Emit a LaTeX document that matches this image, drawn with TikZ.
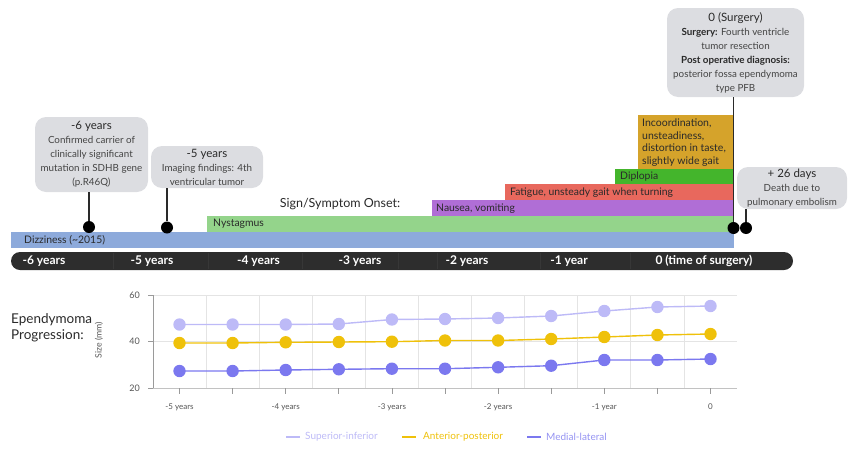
\documentclass[tikz,border=0pt]{standalone}
\usepackage{fontspec}
\setmainfont{Lato}
\definecolor{cDiz}{HTML}{8DAADB}
\definecolor{cNys}{HTML}{94D48B}
\definecolor{cNau}{HTML}{B06ED6}
\definecolor{cFat}{HTML}{E8685D}
\definecolor{cDip}{HTML}{44B52C}
\definecolor{cInc}{HTML}{D5A32B}
\definecolor{cBox}{HTML}{DCDDE1}
\definecolor{cTL}{HTML}{2D2D2D}
\definecolor{cTxt}{HTML}{2A2A2A}
\definecolor{cBody}{HTML}{444444}
\definecolor{cSI}{HTML}{BDBAF7}
\definecolor{cAP}{HTML}{EFC10A}
\definecolor{cML}{HTML}{7B78EF}
\definecolor{cGrid}{HTML}{E4E4E4}
\definecolor{cAxis}{HTML}{9A9A9A}
\definecolor{cLbl}{HTML}{555555}
\begin{document}
\begin{tikzpicture}[x=1pt,y=-1pt,
  barlbl/.style={anchor=west,inner sep=0pt,text=cTxt,font=\fontsize{10.4}{12}\selectfont},
  callout/.style={fill=cBox,rounded corners=11pt,align=center,inner sep=0pt,text=cBody,font=\fontsize{9.8}{14}\selectfont},
  dotnode/.style={circle,fill=black,inner sep=0pt,minimum size=12pt},
  conn/.style={line width=1.3pt,draw=cTxt},
  tllbl/.style={text=white,inner sep=0pt,font=\bfseries\fontsize{12}{14}\selectfont},
  ticklbl/.style={text=cLbl,inner sep=0pt,font=\fontsize{8}{10}\selectfont},
  series/.style={line width=1.4pt},
  leglbl/.style={anchor=west,inner sep=0pt,font=\fontsize{10}{12}\selectfont}]
\useasboundingbox (0,0) rectangle (864,450);
% ---------- symptom bars ----------
\fill[cDiz] (11,232) rectangle (734,247.5);
\fill[cNys] (207,216) rectangle (734,232);
\fill[cNau] (432,200) rectangle (734,216);
\fill[cFat] (505,184) rectangle (734,200);
\fill[cDip] (615,169) rectangle (734,184);
\fill[cInc] (638,115) rectangle (734,169);
\node[barlbl] (ldiz) at (24,240) {Dizziness (\textasciitilde2015)};
\node[barlbl] (lnys) at (213,224) {Nystagmus};
\node[barlbl] (lnau) at (436,208.5) {Nausea, vomiting};
\node[barlbl] (lfat) at (510,192.5) {Fatigue, unsteady gait when turning};
\node[barlbl] (ldip) at (620,176.5) {Diplopia};
\node[barlbl,anchor=north west,align=left,font=\fontsize{10.5}{12.7}\selectfont] (linc) at (642,118.5)
  {Incoordination,\\unsteadiness,\\distortion in taste,\\slightly wide gait};
\node[inner sep=0pt,text=cTxt,font=\fontsize{12.5}{14}\selectfont] (onset) at (340,204) {Sign/Symptom Onset:};
% ---------- callouts ----------
\node[callout,minimum width=113pt,minimum height=75pt] (b6) at (91.5,154.5)
  {{\fontsize{11.5}{14}\selectfont\color{cTxt}-6 years}\\Confirmed carrier of\\clinically significant\\mutation in SDHB gene\\(p.R46Q)};
\node[callout,minimum width=112pt,minimum height=42pt] (b5) at (207,167)
  {{\fontsize{11.5}{14}\selectfont\color{cTxt}-5 years}\\Imaging findings: 4th\\ventricular tumor};
\node[callout,minimum width=137pt,minimum height=89pt] (bs) at (735.5,52.5)
  {{\fontsize{11.5}{14}\selectfont\color{cTxt}0 (Surgery)}\\{\bfseries\color{cTxt}Surgery:} Fourth ventricle\\tumor resection\\{\bfseries\color{cTxt}Post operative diagnosis:}\\posterior fossa ependymoma\\type PFB};
\node[callout,minimum width=110pt,minimum height=42pt] (bd) at (792,188)
  {{\fontsize{11.5}{14}\selectfont\color{cTxt}+ 26 days}\\Death due to\\pulmonary embolism};
\node[dotnode] (p6) at (89,227) {};
\node[dotnode] (p5) at (167,227.5) {};
\node[dotnode] (ps) at (733.5,228) {};
\node[dotnode] (pd) at (746,228) {};
\draw[conn] (p6 |- b6.south) -- (p6);
\draw[conn] (p5 |- b5.south) -- (p5);
\draw[conn] (ps |- bs.south) -- (ps);
\draw[conn] (pd |- bd.south) -- (pd);
% ---------- timeline ----------
\node[fill=cTL,rounded corners=9pt,minimum width=782pt,minimum height=18pt,inner sep=0pt] (tl) at (402,261) {};
\foreach \sx in {113,208,302,398,437,540,630}
  \draw[white,opacity=0.05,line width=0.8pt] (\sx,253) -- (\sx,269);
\node[tllbl] (t6) at (44,261) {-6 years};
\node[tllbl] (t5) at (152,261) {-5 years};
\node[tllbl] (t4) at (258.5,261) {-4 years};
\node[tllbl] (t3) at (360,261) {-3 years};
\node[tllbl] (t2) at (467,261) {-2 years};
\node[tllbl] (t1) at (569,261) {-1 year};
\node[tllbl] (t0) at (704,261) {0 (time of surgery)};
% ---------- chart ----------
\node[anchor=west,align=left,inner sep=0pt,text=cTxt,font=\fontsize{13.5}{16.5}\selectfont] (eplbl) at (11,328) {Ependymoma\\Progression:};
\node[rotate=90,inner sep=0pt,text=cLbl,font=\fontsize{8.7}{10}\selectfont] (sizelbl) at (99,340) {Size (mm)};
\draw[cGrid,line width=0.7pt] (153,295) -- (737,295);
\draw[cGrid,line width=0.7pt] (153,341.5) -- (737,341.5);
\foreach \k in {0,...,9}
  \draw[cGrid,line width=0.7pt] ({206+53.1*\k},295) -- ({206+53.1*\k},388);
\draw[cAxis,line width=0.8pt] (153,295) -- (153,388);
\draw[cAxis!60,line width=0.8pt] (153,388) -- (737,388);
\foreach \yy in {295,341.5,388}
  \draw[cAxis,line width=0.7pt] (148,\yy) -- (153,\yy);
\foreach \k in {0,...,10}
  \draw[cAxis,line width=0.7pt] ({179.5+53.1*\k},388) -- ({179.5+53.1*\k},394);
\node[ticklbl,anchor=east,font=\fontsize{9}{10}\selectfont] (y60) at (140,295) {60};
\node[ticklbl,anchor=east,font=\fontsize{9}{10}\selectfont] (y40) at (140,341.5) {40};
\node[ticklbl,anchor=east,font=\fontsize{9}{10}\selectfont] (y20) at (140,388) {20};
\node[ticklbl] (x5) at (179.5,407) {-5 years};
\node[ticklbl] (x4) at (285.7,407) {-4 years};
\node[ticklbl] (x3) at (391.9,407) {-3 years};
\node[ticklbl] (x2) at (498.1,407) {-2 years};
\node[ticklbl] (x1) at (604.3,407) {-1 year};
\node[ticklbl] (x0) at (710.5,407) {0};
% data
\foreach \yv [count=\i from 0] in {324.5,324.5,324.5,324,319.5,319,318,316,311,307,306}
  \coordinate (si\i) at ({179.5+53.1*\i},\yv);
\foreach \yv [count=\i from 0] in {343,343,342.3,342,341.7,340.5,340.5,339,337,335,334}
  \coordinate (ap\i) at ({179.5+53.1*\i},\yv);
\foreach \yv [count=\i from 0] in {371,371,370,369.3,368.7,368.7,367.3,365.7,360,360,359}
  \coordinate (ml\i) at ({179.5+53.1*\i},\yv);
\draw[series,cSI] (si0) \foreach \i in {1,...,10}{ -- (si\i)};
\draw[series,cAP] (ap0) \foreach \i in {1,...,10}{ -- (ap\i)};
\draw[series,cML] (ml0) \foreach \i in {1,...,10}{ -- (ml\i)};
\foreach \i in {0,...,10}{
  \fill[cSI] (si\i) circle[radius=6.2pt];
  \fill[cAP] (ap\i) circle[radius=6.2pt];
  \fill[cML] (ml\i) circle[radius=6.2pt];
}
% legend
\draw[cSI,line width=1.6pt] (286,437) -- (300,437);
\node[leglbl,text=cSI] (lsi) at (305,437) {Superior-inferior};
\draw[cAP,line width=1.6pt] (402,437) -- (416,437);
\node[leglbl,text=cAP] (lap) at (423,437) {Anterior-posterior};
\draw[cML,line width=1.6pt] (527,437) -- (541,437);
\node[leglbl,text=cML!80] (lml) at (546,437) {Medial-lateral};
\end{tikzpicture}
\end{document}
